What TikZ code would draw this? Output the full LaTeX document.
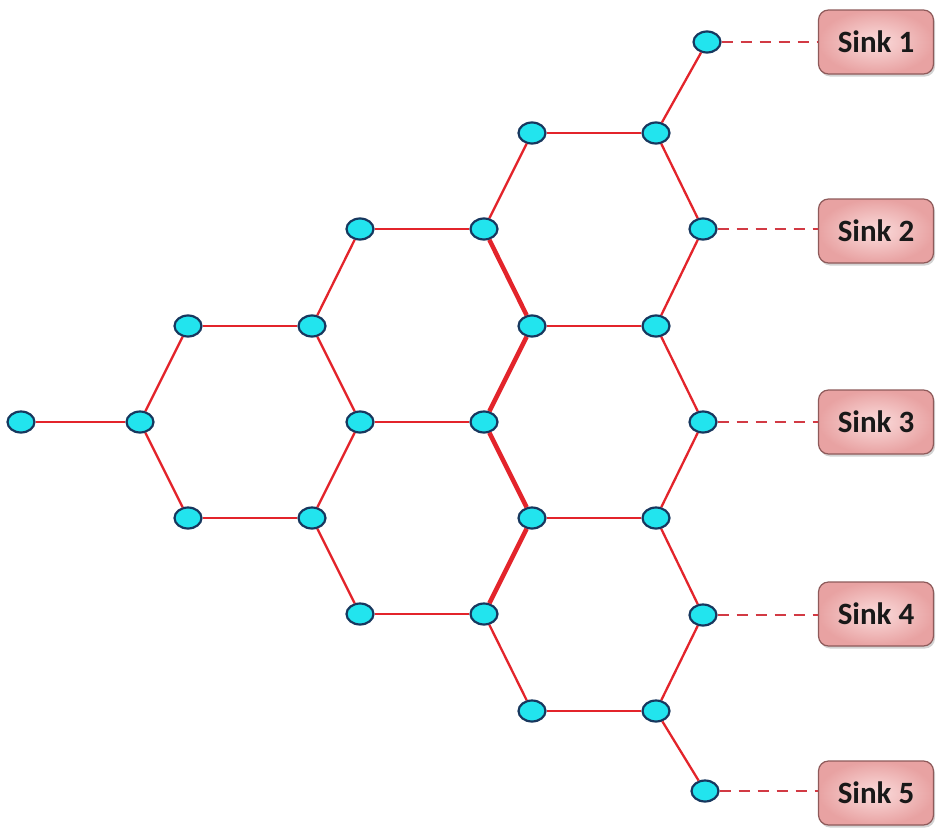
\documentclass[tikz,border=0pt]{standalone}
\usepackage{fontspec}
\setmainfont{Carlito}
\usetikzlibrary{shadows,shapes.geometric}
\definecolor{nodefill}{HTML}{22E4EE}
\definecolor{nodeline}{HTML}{17375E}
\definecolor{edgered}{HTML}{E3242B}
\definecolor{dashred}{HTML}{D23A44}
\definecolor{sinkin}{HTML}{FBDCDC}
\definecolor{sinkout}{HTML}{E8A2A2}
\definecolor{sinkline}{HTML}{8E5A5A}
\tikzset{
  pt/.style={ellipse, draw=nodeline, line width=2.2pt, fill=nodefill, minimum width=27pt, minimum height=21pt, inner sep=0pt},
  edge/.style={draw=edgered, line width=2.3pt},
  thickedge/.style={draw=edgered, line width=4.5pt},
  dashline/.style={draw=dashred, line width=2.3pt, dash pattern=on 11pt off 8pt},
  sink/.style={rounded corners=10pt, draw=sinkline, line width=1.2pt, inner color=sinkin, outer color=sinkout, minimum width=115pt, minimum height=64pt, font=\fontsize{31}{36}\selectfont\bfseries, text=black!90, drop shadow={shadow xshift=1.5pt, shadow yshift=-2.5pt, opacity=0.35}}
}
\begin{document}
\begin{tikzpicture}[x=1pt,y=-1pt]
\useasboundingbox (0,0) rectangle (940,830);
% nodes
\node[pt] (A0) at (21,422) {};
\node[pt] (A1) at (140,422) {};
\node[pt] (B1) at (188,326) {};
\node[pt] (B2) at (188,518) {};
\node[pt] (C1) at (312,326) {};
\node[pt] (C2) at (312,518) {};
\node[pt] (D1) at (360,229) {};
\node[pt] (D2) at (360,422) {};
\node[pt] (D3) at (360,614) {};
\node[pt] (E1) at (484,229) {};
\node[pt] (E2) at (484,422) {};
\node[pt] (E3) at (484,614) {};
\node[pt] (F1) at (532,133) {};
\node[pt] (F2) at (532,326) {};
\node[pt] (F3) at (532,518) {};
\node[pt] (F4) at (532,711) {};
\node[pt] (G1) at (656,133) {};
\node[pt] (G2) at (656,326) {};
\node[pt] (G3) at (656,518) {};
\node[pt] (G4) at (656,711) {};
\node[pt] (H1) at (707,42) {};
\node[pt] (H2) at (703,229) {};
\node[pt] (H3) at (703,422) {};
\node[pt] (H4) at (703,615) {};
\node[pt] (H5) at (705,791) {};
% sinks
\node[sink] (S1) at (876,42) {Sink 1};
\node[sink] (S2) at (876,231) {Sink 2};
\node[sink] (S3) at (876,422) {Sink 3};
\node[sink] (S4) at (876,614) {Sink 4};
\node[sink] (S5) at (876,793) {Sink 5};
% edges
\draw[edge] (A0) -- (A1);
\draw[edge] (A1) -- (B1);
\draw[edge] (A1) -- (B2);
\draw[edge] (B1) -- (C1);
\draw[edge] (B2) -- (C2);
\draw[edge] (C1) -- (D1);
\draw[edge] (C1) -- (D2);
\draw[edge] (C2) -- (D2);
\draw[edge] (C2) -- (D3);
\draw[edge] (D1) -- (E1);
\draw[edge] (D2) -- (E2);
\draw[edge] (D3) -- (E3);
\draw[edge] (E1) -- (F1);
\draw[thickedge] (E1) -- (F2);
\draw[thickedge] (F2) -- (E2);
\draw[thickedge] (E2) -- (F3);
\draw[thickedge] (F3) -- (E3);
\draw[edge] (E3) -- (F4);
\draw[edge] (F1) -- (G1);
\draw[edge] (F2) -- (G2);
\draw[edge] (F3) -- (G3);
\draw[edge] (F4) -- (G4);
\draw[edge] (G1) -- (H1);
\draw[edge] (G1) -- (H2);
\draw[edge] (G2) -- (H2);
\draw[edge] (G2) -- (H3);
\draw[edge] (G3) -- (H3);
\draw[edge] (G3) -- (H4);
\draw[edge] (G4) -- (H4);
\draw[edge] (G4) -- (H5);
% dashed links
\draw[dashline] (H1) -- (H1 -| S1.west);
\draw[dashline] (H2) -- (H2 -| S2.west);
\draw[dashline] (H3) -- (H3 -| S3.west);
\draw[dashline] (H4) -- (H4 -| S4.west);
\draw[dashline] (H5) -- (H5 -| S5.west);
\end{tikzpicture}
\end{document}
